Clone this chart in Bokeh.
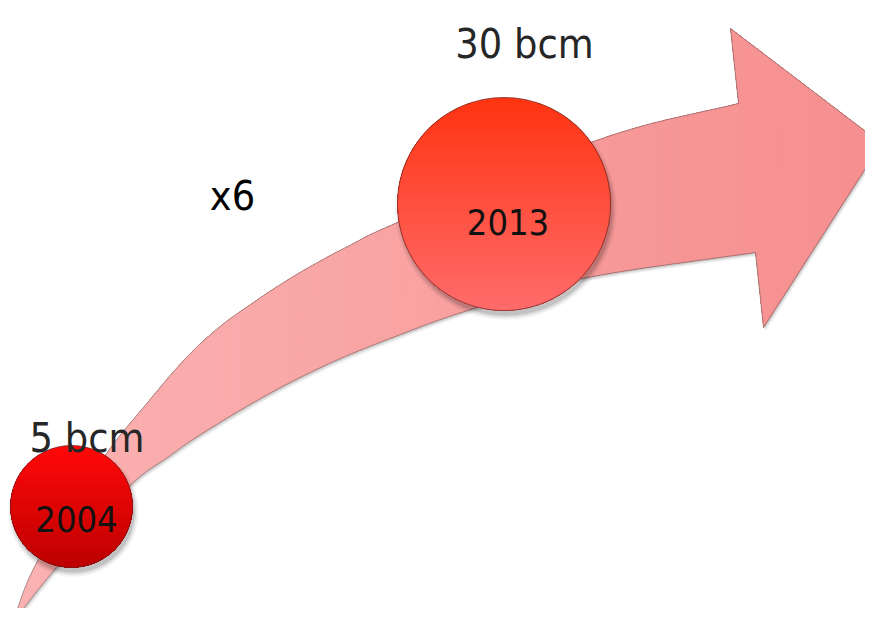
import numpy as np
from bokeh.plotting import figure
from bokeh.models import Range1d
from bokeh.embed import file_html
from bokeh.resources import INLINE
from bokeh.core.properties import value

# ---- chart content ----
years = ["2004", "2013"]
volumes = ["5 bcm", "30 bcm"]
growth = ["x6"]

# ---- layout (pixel space of the picture) ----
FONT = "DejaVu Sans Condensed"
circle_cx = [71, 503.5]
circle_cy = [506, 203.5]
circle_r = [61, 106.5]
circle_top = [(255, 8, 8), (255, 52, 18)]
circle_bot = [(188, 0, 0), (255, 108, 108)]
year_x = [76, 507.5]
year_y = [518, 221]
vol_x = [86.5, 524]
vol_y = [437, 43]
growth_x = [232]
growth_y = [195]

upper_pts = [(12, 622), (37, 560), (103, 457), (143, 407), (183, 360), (217, 328),
             (250, 304), (283, 282), (317, 262), (353, 243), (397, 222), (600, 138), (738, 103)]
lower_pts = [(12, 622), (55, 568), (127, 487), (167, 457), (200, 434), (267, 394),
             (333, 361), (400, 334), (467, 310), (580, 278), (755, 252)]
head_pts = [(730, 28), (881, 143), (763, 327)]


def catmull(pts, n=24):
    pts = np.asarray(pts, float)
    P = np.vstack([2 * pts[0] - pts[1], pts, 2 * pts[-1] - pts[-2]])
    out = []
    for i in range(1, len(P) - 2):
        p0, p1, p2, p3 = P[i - 1], P[i], P[i + 1], P[i + 2]
        t = np.linspace(0, 1, n, endpoint=False)[:, None]
        seg = 0.5 * ((2 * p1) + (-p0 + p2) * t + (2 * p0 - 5 * p1 + 4 * p2 - p3) * t ** 2
                     + (-p0 + 3 * p1 - 3 * p2 + p3) * t ** 3)
        out.append(seg)
    out.append(pts[-1:])
    return np.vstack(out)


def smooth_edge(pts, n=300, passes=3, win=9):
    """Catmull-Rom through the points, then a light moving-average smoothing."""
    c = catmull(pts, n=30)
    for _ in range(passes):
        k = win // 2
        pad = np.vstack([np.repeat(c[:1], k, 0), c, np.repeat(c[-1:], k, 0)])
        ker = np.ones(win) / win
        c = np.column_stack([np.convolve(pad[:, 0], ker, "valid"),
                             np.convolve(pad[:, 1], ker, "valid")])
    c[0] = pts[0]
    c[-1] = pts[-1]
    return c


def clip(poly, axis, c):
    """Keep part of polygon with coord[axis] >= c."""
    out = []
    n = len(poly)
    for i in range(n):
        a = poly[i]
        b = poly[(i + 1) % n]
        ina = a[axis] >= c
        inb = b[axis] >= c
        if ina:
            out.append(a)
        if ina != inb:
            t = (c - a[axis]) / (b[axis] - a[axis])
            out.append(a + t * (b - a))
    return np.array(out) if out else None


def mix(c1, c2, t):
    r = [int(round(c1[k] + (c2[k] - c1[k]) * t)) for k in range(3)]
    return "#%02x%02x%02x" % tuple(r)


U = smooth_edge(upper_pts)
L = smooth_edge(lower_pts)
arrow = np.vstack([U, np.array(head_pts, float), L[::-1][:-1]])

p = figure(width=865, height=608, x_range=Range1d(0, 865), y_range=Range1d(608, 0),
           output_backend="svg", toolbar_location=None, min_border=0,
           x_axis_location=None, y_axis_location=None)
p.grid.visible = False
p.outline_line_color = None
p.background_fill_color = "white"
p.border_fill_color = "white"

# arrow shadow
for k, a in enumerate([0.10, 0.07, 0.04]):
    off = 1.5 + k * 1.2
    p.patch(arrow[:, 0] + off * 0.6, arrow[:, 1] + off, fill_color="black", fill_alpha=a,
            line_color=None)

# arrow gradient (layered from left to right)
stops = [(12, (251, 178, 178)), (400, (249, 163, 163)), (650, (247, 150, 150)), (881, (246, 143, 143))]
xs = np.linspace(12, 870, 60)
for xc in xs:
    for j in range(len(stops) - 1):
        if stops[j][0] <= xc <= stops[j + 1][0]:
            t = (xc - stops[j][0]) / (stops[j + 1][0] - stops[j][0])
            col = mix(stops[j][1], stops[j + 1][1], t)
            break
    part = clip(arrow, 0, xc - 0.01)
    if part is not None and len(part) > 2:
        p.patch(part[:, 0], part[:, 1], fill_color=col, line_color=None)
p.patch(arrow[:, 0], arrow[:, 1], fill_color=None, line_color="#7a6060", line_width=0.8,
        line_alpha=0.8)

# circles
theta = np.linspace(0, 2 * np.pi, 240, endpoint=False)
for i in range(len(years)):
    cx, cy, r = circle_cx[i], circle_cy[i], circle_r[i]
    # soft shadow
    for k, a in enumerate([0.10, 0.07, 0.05, 0.03]):
        rr = r + k * 1.5
        p.patch(cx + 2 + rr * np.cos(theta), cy + 5 + rr * np.sin(theta), fill_color="black",
                fill_alpha=a, line_color=None)
    circ = np.column_stack([cx + r * np.cos(theta), cy + r * np.sin(theta)])
    for yc in np.linspace(cy - r, cy + r, 40, endpoint=False):
        t = (yc - (cy - r)) / (2 * r)
        part = clip(circ, 1, yc - 0.01)
        if part is not None and len(part) > 2:
            p.patch(part[:, 0], part[:, 1], fill_color=mix(circle_top[i], circle_bot[i], t),
                    line_color=None)
    p.patch(circ[:, 0], circ[:, 1], fill_color=None, line_color="#5a2020", line_width=0.8,
            line_alpha=0.8)

# texts
p.text(x=year_x, y=year_y, text=years, text_font=value(FONT), text_font_size="36px",
       text_align="center", text_baseline="alphabetic", text_color="#111111")
p.text(x=vol_x, y=vol_y, text=volumes, text_font=value(FONT), text_font_size="41px",
       text_align="center", text_baseline="alphabetic", text_color="#262626")
p.text(x=growth_x, y=growth_y, text=growth, text_font=value(FONT), text_font_size="41px",
       text_align="center", text_baseline="alphabetic", text_color="#000000")

open("out.html", "w").write(file_html(p, INLINE))
